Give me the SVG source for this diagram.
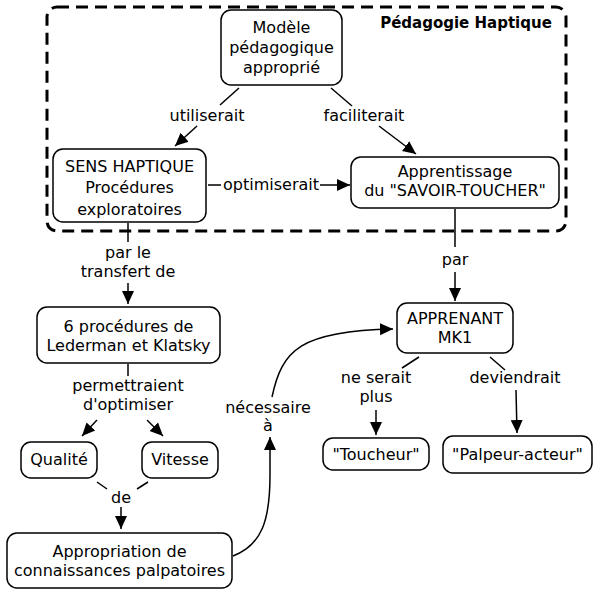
<svg xmlns="http://www.w3.org/2000/svg" width="597" height="592" viewBox="0 0 597 592">
<defs>
<marker id="ah" markerUnits="userSpaceOnUse" markerWidth="14" markerHeight="14" viewBox="0 0 14 14" refX="13" refY="7" orient="auto">
<path d="M0,1 L13,7 L0,13 Z" fill="#000"/>
</marker>
<style>
.n rect{fill:#fff;stroke:#000;stroke-width:1.5}
text{font-family:"DejaVu Sans","Verdana",sans-serif;font-size:16px;fill:#000;text-anchor:middle}
.c line,.c path{stroke:#000;stroke-width:1.5;fill:none}
.a{marker-end:url(#ah)}
</style>
</defs>
<rect x="47" y="7" width="519" height="224" rx="10" fill="none" stroke="#000" stroke-width="3" stroke-dasharray="12,7"/>
<text x="466" y="28" style="font-weight:bold;font-size:15px">Pédagogie Haptique</text>
<g class="c">
<line x1="239" y1="88" x2="220" y2="105"/>
<line class="a" x1="197" y1="126" x2="175" y2="146"/>
<text x="207" y="121">utiliserait</text>
<line x1="331" y1="88" x2="352" y2="106"/>
<line class="a" x1="379" y1="126" x2="416" y2="154"/>
<text x="364" y="121">faciliterait</text>
<line x1="208" y1="185" x2="221" y2="185"/>
<line class="a" x1="320" y1="185" x2="350" y2="185"/>
<text x="271" y="190">optimiserait</text>
<line x1="128" y1="223" x2="128" y2="242"/>
<line class="a" x1="128" y1="283" x2="128" y2="304"/>
<text x="128" y="258">par le</text>
<text x="128" y="277">transfert de</text>
<line x1="128" y1="364" x2="128" y2="376"/>
<line class="a" x1="97" y1="420" x2="82" y2="436"/>
<line class="a" x1="147" y1="420" x2="163" y2="436"/>
<text x="128" y="391">permettraient</text>
<text x="128" y="410">d'optimiser</text>
<line x1="97" y1="482" x2="107" y2="489"/>
<line x1="148" y1="482" x2="137" y2="489"/>
<line class="a" x1="121" y1="507" x2="121" y2="529"/>
<text x="121" y="503">de</text>
<path class="a" d="M233,556 C262,545 270,520 270,475 L270,437"/>
<path class="a" d="M272,397 C282,350 300,331 393,329"/>
<text x="268" y="413">nécessaire</text>
<text x="268" y="431">à</text>
<line x1="455" y1="209" x2="455" y2="247"/>
<line class="a" x1="455" y1="272" x2="455" y2="301"/>
<text x="455" y="265">par</text>
<line x1="419" y1="357" x2="402" y2="368"/>
<line class="a" x1="376" y1="410" x2="376" y2="435"/>
<text x="376" y="383">ne serait</text>
<text x="376" y="402">plus</text>
<line x1="490" y1="357" x2="505" y2="370"/>
<line class="a" x1="516" y1="390" x2="517" y2="433"/>
<text x="515" y="383">deviendrait</text>
</g>
<g id="modele" class="n"><rect x="221" y="10" width="121" height="75" rx="10"/><text x="281.5" y="33">Modèle</text><text x="281.5" y="53">pédagogique</text><text x="281.5" y="73">approprié</text></g>
<g id="sens" class="n"><rect x="53" y="149" width="153" height="73" rx="10"/><text x="129.5" y="172">SENS HAPTIQUE</text><text x="129.5" y="193">Procédures</text><text x="129.5" y="215">exploratoires</text></g>
<g id="apprentissage" class="n"><rect x="351" y="157" width="208" height="51" rx="10"/><text x="455" y="177">Apprentissage</text><text x="455" y="196">du "SAVOIR-TOUCHER"</text></g>
<g id="procedures" class="n"><rect x="37" y="307" width="183" height="56" rx="10"/><text x="128.5" y="332">6 procédures de</text><text x="128.5" y="351">Lederman et Klatsky</text></g>
<g id="qualite" class="n"><rect x="21" y="442" width="76" height="36" rx="10"/><text x="59" y="465">Qualité</text></g>
<g id="vitesse" class="n"><rect x="142" y="442" width="76" height="36" rx="10"/><text x="180" y="465">Vitesse</text></g>
<g id="appropriation" class="n"><rect x="7" y="533" width="225" height="55" rx="10"/><text x="119.5" y="557">Appropriation de</text><text x="119.5" y="576">connaissances palpatoires</text></g>
<g id="apprenant" class="n"><rect x="397" y="303" width="116" height="50" rx="10"/><text x="455" y="324">APPRENANT</text><text x="455" y="343">MK1</text></g>
<g id="toucheur" class="n"><rect x="323" y="438" width="106" height="32" rx="10"/><text x="376" y="460">"Toucheur"</text></g>
<g id="palpeur" class="n"><rect x="443" y="436" width="149" height="37" rx="10"/><text x="517.5" y="460">"Palpeur-acteur"</text></g>
</svg>
